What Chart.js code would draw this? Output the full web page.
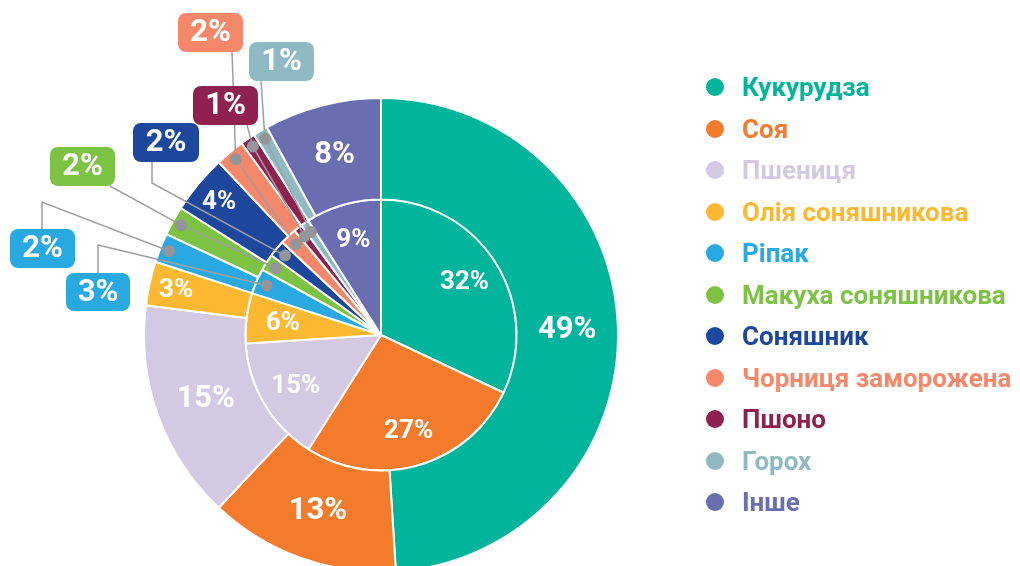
<!DOCTYPE html>
<html>
<head>
<meta charset="utf-8">
<script src="https://cdn.jsdelivr.net/npm/chart.js@4.4.1/dist/chart.umd.min.js"></script>
<style>
  html, body { margin: 0; padding: 0; background: #fff; width: 1020px; height: 566px; overflow: hidden; }
  #wrap { position: absolute; left: 0; top: 0; width: 1020px; height: 580px; }
  #legend { position: absolute; left: 706px; top: 0; font-family: Roboto, 'Noto Sans', sans-serif; font-weight: 700; font-size: 26px; }
  .item { position: absolute; left: 0; white-space: nowrap; line-height: 28px; height: 28px; }
  .item i { position: absolute; left: 0; top: 5px; width: 18px; height: 18px; border-radius: 50%; }
  .item span { position: absolute; left: 36px; top: 0; }
</style>
</head>
<body>
<div id="wrap"><canvas id="chartCultures"></canvas></div>
<div id="legend"></div>
<script>
// категорії та частки (%), зовнішнє кільце і внутрішнє коло
const categories = ['Кукурудза', 'Соя', 'Пшениця', 'Олія соняшникова', 'Ріпак', 'Макуха соняшникова',
    'Соняшник', 'Чорниця заморожена', 'Пшоно', 'Горох', 'Інше'];
const outerShare = [49, 13, 15, 3, 2, 2, 4, 2, 1, 1, 8];
const innerShare = [32, 27, 15, 6, 3, 2, 2, 2, 1, 1, 9];
const colors = ['#00b59b', '#f47b2c', '#d3c9e2', '#fcb830', '#29a9e1', '#7cc243',
    '#1c479c', '#f5876a', '#8e2150', '#8fbac4', '#6b6db1'];

// виноски для дрібних часток: які сегменти (ds 0 = зовнішнє, 1 = внутрішнє), де стоїть плашка
const callouts = [
    { idx: 7, dots: [0, 1], box: [178, 13, 65, 39], path: [[232, 52]] },
    { idx: 9, dots: [0, 1], box: [249, 42, 65, 39], path: [[261, 81]] },
    { idx: 8, dots: [0, 1], box: [193, 86, 65, 39], path: [[247, 125]] },
    { idx: 6, dots: [1], box: [133, 123, 66, 39], path: [[152, 162], [152, 183]] },
    { idx: 5, dots: [0, 1], box: [50, 147, 65, 39], path: [[110, 186]] },
    { idx: 4, dots: [0], box: [10, 229, 65, 39], path: [[42, 229], [42, 202]] },
    { idx: 4, dots: [1], box: [66, 273, 64, 38], path: [[98, 273], [98, 245]] }
];

const FONT = 'Roboto, "Noto Sans", sans-serif';

// легенда
var legendEl = document.getElementById('legend');
categories.forEach(function (c, i) {
    var d = document.createElement('div');
    d.className = 'item';
    d.style.top = (73 + i * 41.5) + 'px';
    d.innerHTML = '<i style="background:' + colors[i] + '"></i><span style="color:' + colors[i] + '">' + c + '</span>';
    legendEl.appendChild(d);
});

function arcPoint(arc, r) {
    var p = arc.getProps(['x', 'y', 'startAngle', 'endAngle'], true);
    var a = (p.startAngle + p.endAngle) / 2;
    return { x: p.x + Math.cos(a) * r, y: p.y + Math.sin(a) * r };
}

const sliceLabels = {
    id: 'sliceLabels',
    afterDatasetsDraw: function (chart) {
        var ctx = chart.ctx;
        ctx.save();
        ctx.fillStyle = '#fff';
        ctx.textAlign = 'center';
        ctx.textBaseline = 'middle';
        chart.data.datasets.forEach(function (ds, di) {
            var meta = chart.getDatasetMeta(di);
            meta.data.forEach(function (arc, i) {
                var v = ds.data[i];
                var p = arc.getProps(['innerRadius', 'outerRadius'], true);
                var r, size;
                if (di === 0) {
                    if (v < 3) return;
                    size = v >= 8 ? 31 : 26;
                    r = v >= 8 ? (p.innerRadius + p.outerRadius) / 2 : p.outerRadius - 27;
                } else {
                    if (v < 6) return;
                    size = 26;
                    r = p.outerRadius * 0.73;
                }
                var pt = arcPoint(arc, r);
                ctx.font = 'bold ' + size + 'px ' + FONT;
                ctx.fillText(v + '%', pt.x, pt.y + 1);
            });
        });
        ctx.restore();
    }
};

const calloutPlugin = {
    id: 'callouts',
    afterDraw: function (chart) {
        var ctx = chart.ctx;
        ctx.save();
        callouts.forEach(function (c) {
            var pts = c.path.slice();
            c.dots.forEach(function (di) {
                var arc = chart.getDatasetMeta(di).data[c.idx];
                var p = arc.getProps(['outerRadius'], true);
                pts.push(arcPoint(arc, p.outerRadius - (di === 0 ? 9 : 11)));
            });
            c._pts = pts;
            ctx.strokeStyle = '#9d9fa2';
            ctx.lineWidth = 1.5;
            ctx.beginPath();
            pts.forEach(function (q, k) {
                var x = q.x !== undefined ? q.x : q[0], y = q.y !== undefined ? q.y : q[1];
                if (k === 0) ctx.moveTo(x, y); else ctx.lineTo(x, y);
            });
            ctx.stroke();
        });
        callouts.forEach(function (c) {
            ctx.fillStyle = '#939598';
            c._pts.forEach(function (q) {
                if (q.x === undefined) return;
                ctx.beginPath();
                ctx.arc(q.x, q.y, 6, 0, Math.PI * 2);
                ctx.fill();
            });
        });
        callouts.forEach(function (c) {
            var b = c.box;
            var v = c.dots[0] === 0 ? outerShare[c.idx] : innerShare[c.idx];
            ctx.fillStyle = colors[c.idx];
            ctx.beginPath();
            ctx.roundRect(b[0], b[1], b[2], b[3], 8);
            ctx.fill();
            ctx.fillStyle = '#fff';
            ctx.font = 'bold 31px ' + FONT;
            ctx.textAlign = 'center';
            ctx.textBaseline = 'middle';
            ctx.fillText(v + '%', b[0] + b[2] / 2, b[1] + b[3] / 2 + 1);
        });
        ctx.restore();
    }
};

new Chart(document.getElementById('chartCultures'), {
    type: 'doughnut',
    data: {
        labels: categories,
        datasets: [
            { data: outerShare, backgroundColor: colors, borderColor: '#fff', borderWidth: 2, weight: 101 },
            { data: innerShare, backgroundColor: colors, borderColor: '#fff', borderWidth: 2, weight: 135 }
        ]
    },
    options: {
        responsive: true, maintainAspectRatio: false, animation: false,
        cutout: 0,
        layout: { padding: { top: 97, left: 143, right: 401, bottom: 7 } },
        plugins: { legend: { display: false }, tooltip: { enabled: false } }
    },
    plugins: [sliceLabels, calloutPlugin]
});
</script>
</body>
</html>
